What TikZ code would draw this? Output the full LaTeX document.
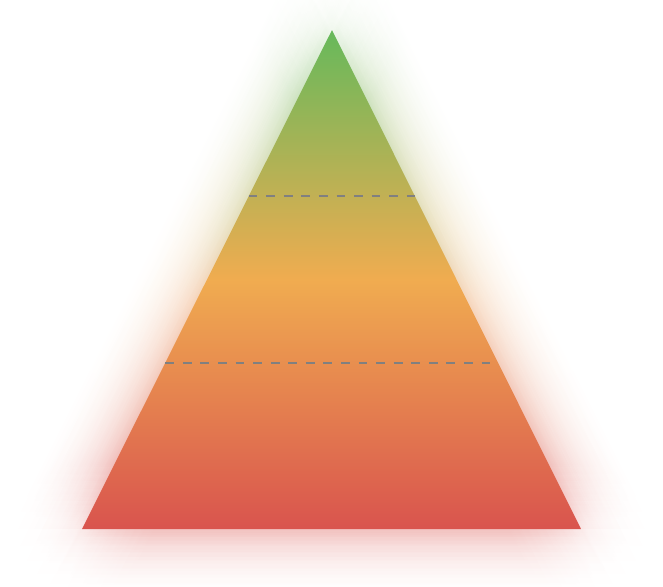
\documentclass[tikz,border=0pt]{standalone}
\usetikzlibrary{calc}
\definecolor{pyrgreen}{RGB}{102,185,91}
\definecolor{pyrorange}{RGB}{240,172,80}
\definecolor{pyrred}{RGB}{217,84,78}
\begin{document}
\begin{tikzpicture}[x=0.02cm, y=-0.02cm,
	pyrfill/.style={top color=pyrgreen, bottom color=pyrred, middle color=pyrorange},
	levelline/.style={draw=gray, line width=1.1pt, dash pattern=on 5pt off 5pt}]
	\useasboundingbox (0,0) rectangle (663,586);
	% soft glow behind the pyramid
	\foreach \a in {0,15,...,345} {
		\foreach \r in {8,16,...,64} {
			\shade[pyrfill, opacity=0.0035, shift={(\a:\r)}] (332,30) -- (82,529) -- (581,529) -- cycle;
		}
	}
	\coordinate (apex) at (332,30);
	\coordinate (left) at (82,529);
	\coordinate (right) at (581,529);
	\shade[pyrfill] (apex) -- (left) -- (right) -- cycle;
	\coordinate (l1) at ($(apex)!1/3!(left)$);
	\coordinate (r1) at ($(apex)!1/3!(right)$);
	\coordinate (l2) at ($(apex)!2/3!(left)$);
	\coordinate (r2) at ($(apex)!2/3!(right)$);
	\draw[levelline] (l1) -- (r1);
	\draw[levelline] (l2) -- (r2);
\end{tikzpicture}
\end{document}
